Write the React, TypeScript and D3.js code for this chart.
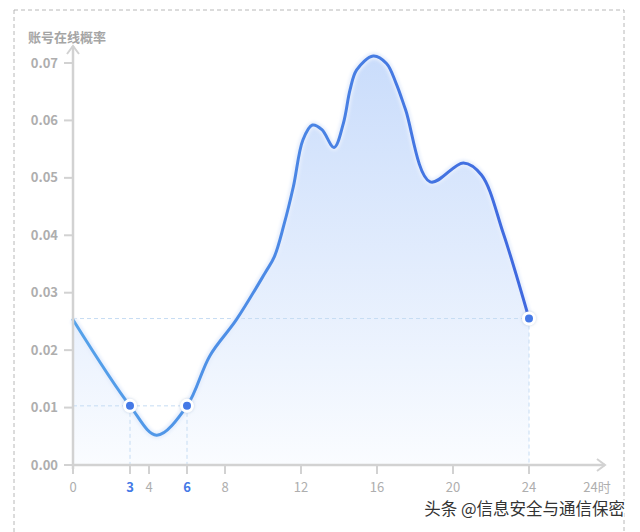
import { useMemo } from "react";
import * as d3 from "d3";

const hours = [0, 3, 4.4, 6, 7.2, 8.6, 10.1, 10.6, 11.1, 11.6, 12.1, 12.6, 13.1, 13.74, 14.23, 14.58, 14.93, 15.8, 16.5, 17.0, 17.5, 18.8, 20.55, 21.5, 22.65, 24];
const onlineRate = [0.0253, 0.0103, 0.0052, 0.0103, 0.019, 0.0253, 0.0334, 0.0363, 0.0418, 0.0485, 0.0566, 0.0592, 0.0584, 0.0553, 0.0595, 0.0653, 0.0688, 0.0712, 0.0699, 0.0665, 0.0619, 0.0493, 0.0526, 0.0505, 0.0403, 0.0255];

const xTicks = [0, 3, 4, 6, 8, 12, 16, 20, 24];
const yTicks = [0, 0.01, 0.02, 0.03, 0.04, 0.05, 0.06, 0.07];
const markedHours = [3, 6, 24];

const W = 640;
const H = 532;
const AXIS = "#d2d2d2";
const LABEL = "#aeaeae";
const BLUE = "#4479e6";
const FONT = "'Noto Sans CJK SC', 'Noto Sans', sans-serif";

export default function App() {
  const x = d3.scaleLinear().domain([0, 24]).range([73, 529]);
  const y = d3.scaleLinear().domain([0, 0.07]).range([465, 63]);

  const points = hours.map((h, i) => ({ h, v: onlineRate[i] }));
  const curve = d3.curveCatmullRom.alpha(0.5);

  const linePath = useMemo(
    () =>
      d3
        .line<{ h: number; v: number }>()
        .x((d) => x(d.h))
        .y((d) => y(d.v))
        .curve(curve)(points) ?? "",
    []
  );
  const areaPath = useMemo(
    () =>
      d3
        .area<{ h: number; v: number }>()
        .x((d) => x(d.h))
        .y0(y(0))
        .y1((d) => y(d.v))
        .curve(curve)(points) ?? "",
    []
  );

  const marks = markedHours.map((h) => ({ h, v: onlineRate[hours.indexOf(h)] }));

  return (
    <svg width={W} height={H} style={{ position: "absolute", left: 0, top: 0 }} fontFamily={FONT}>
      <defs>
        <linearGradient id="fillGrad" x1="0" y1={y(0.072)} x2="0" y2={y(0)} gradientUnits="userSpaceOnUse">
          <stop offset="0%" stopColor="#c9dcfb" />
          <stop offset="100%" stopColor="#fafcff" />
        </linearGradient>
        <linearGradient id="lineGrad" x1={x(0)} y1="0" x2={x(24)} y2="0" gradientUnits="userSpaceOnUse">
          <stop offset="0%" stopColor="#55a2ea" />
          <stop offset="100%" stopColor="#3f68df" />
        </linearGradient>
        <filter id="dotShadow" x="-50%" y="-50%" width="200%" height="200%">
          <feDropShadow dx="0" dy="0" stdDeviation="1.5" floodColor="#8fa8c8" floodOpacity="0.5" />
        </filter>
        <filter id="glow" x="-10%" y="-10%" width="120%" height="120%">
          <feGaussianBlur stdDeviation="1.5" />
        </filter>
      </defs>

      <rect x={14} y={10} width={610} height={540} fill="none" stroke="#b8b8b8" strokeDasharray="4 3" />

      <path d={areaPath} fill="url(#fillGrad)" />

      {/* dashed guides */}
      <line x1={x(0)} x2={x(6)} y1={y(onlineRate[1])} y2={y(onlineRate[1])} stroke="#c6dcf3" strokeDasharray="4 3" />
      <line x1={x(0)} x2={x(24)} y1={y(onlineRate[onlineRate.length - 1])} y2={y(onlineRate[onlineRate.length - 1])} stroke="#c6dcf3" strokeDasharray="4 3" />
      {marks.map((m) => (
        <line key={m.h} x1={x(m.h)} x2={x(m.h)} y1={y(m.v)} y2={y(0)} stroke="#c6dcf3" strokeDasharray="4 3" />
      ))}

      <path d={linePath} fill="none" stroke="#e6eefc" strokeWidth={7} filter="url(#glow)" />
      <path d={linePath} fill="none" stroke="url(#lineGrad)" strokeWidth={3} strokeLinecap="round" strokeLinejoin="round" />

      {/* y axis */}
      <line x1={x(0)} x2={x(0)} y1={y(0) + 4} y2={46} stroke={AXIS} strokeWidth={2.5} />
      <path d={`M${x(0) - 6},${54} L${x(0)},${46} L${x(0) + 6},${54}`} fill="none" stroke={AXIS} strokeWidth={2} />
      {yTicks.map((t) => (
        <g key={t}>
          <line x1={x(0) - 9} x2={x(0)} y1={y(t)} y2={y(t)} stroke={AXIS} strokeWidth={2} />
          <text x={x(0) - 15} y={y(t)} dy="0.35em" textAnchor="end" fontSize={13} fontWeight={600} fill={LABEL}>
            {t.toFixed(2)}
          </text>
        </g>
      ))}
      <text x={28} y={42} fontSize={13} fontWeight={600} fill="#a5a5a5">账号在线概率</text>

      {/* x axis */}
      <line x1={x(0) - 1} x2={605} y1={y(0)} y2={y(0)} stroke={AXIS} strokeWidth={2.5} />
      <path d={`M${597},${y(0) - 6} L${605},${y(0)} L${597},${y(0) + 6}`} fill="none" stroke={AXIS} strokeWidth={2} />
      {xTicks.map((t) => {
        const marked = markedHours.includes(t) && t !== 24;
        return (
          <g key={t}>
            <line x1={x(t)} x2={x(t)} y1={y(0)} y2={y(0) + 9} stroke={AXIS} strokeWidth={2} />
            <text x={x(t)} y={y(0) + 27} textAnchor="middle" fontSize={13} fontWeight={marked ? 700 : 400} fill={marked ? BLUE : LABEL}>
              {t}
            </text>
          </g>
        );
      })}
      <text x={597} y={y(0) + 27} textAnchor="middle" fontSize={13} fill={LABEL}>24时</text>

      {marks.map((m) => (
        <circle key={m.h} cx={x(m.h)} cy={y(m.v)} r={5.5} fill={BLUE} stroke="#fff" strokeWidth={3} filter="url(#dotShadow)" />
      ))}

      <text x={625} y={515} textAnchor="end" fontSize={16.5} fill="#333" stroke="#fff" strokeWidth={3} paintOrder="stroke">
        头条 @信息安全与通信保密
      </text>
    </svg>
  );
}
